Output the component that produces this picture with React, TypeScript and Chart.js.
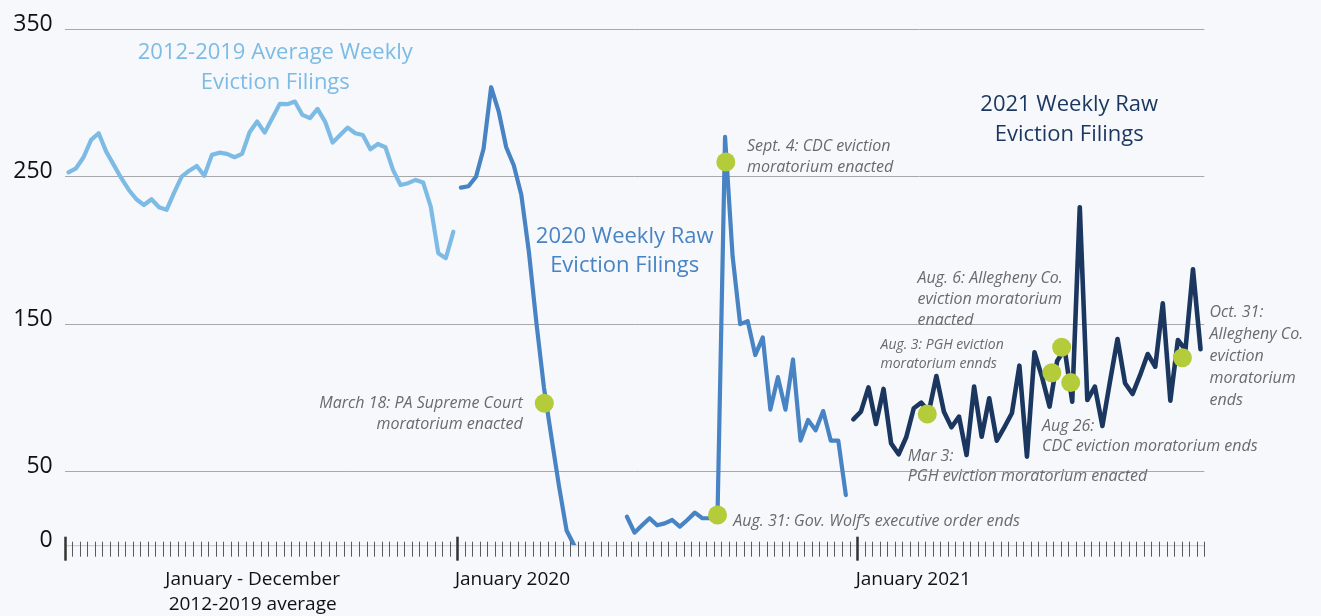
import React, { useEffect, useRef } from "react";
import { Chart, registerables } from "chart.js";

Chart.register(...registerables);

// ---------- data ----------
// x axis = weeks: 0..52 average year, 52..105 year 2020, 105..151 year 2021
const weekMax = 151;
const majorWeeks = [0, 52, 105];
const yTickLabels = [0, 50, 150, 250, 350];
const yGridValues = [50, 150, 250, 350];

const avgStartWeek = 0.5;
const avgWeekly = [
  253, 255.7, 263.2, 275, 279.5, 267, 258, 249, 241, 234.7,
  230.8, 234.7, 229.3, 227.5, 239.2, 250, 254.1, 257.3, 250.7, 264.8,
  266.3, 265.5, 263.2, 265.5, 280.2, 287.4, 279.9, 289.7, 299.4, 299.2,
  301, 291.9, 289.7, 296, 287.4, 273.1, 278.3, 283.3, 279.5, 278.3,
  268.6, 272.2, 270, 254.6, 244.4, 245.6, 247.8, 246, 229.7, 198.1,
  194.7, 212.7,
];

const raw2020StartWeek = 52.5;
const raw2020: (number | null)[] = [
  242.6, 243.5, 250, 269, 310.7, 294.4, 270, 257.8, 237.8, 199.2,
  151, 107, 73, 40, 10, 0, null, null, null, null,
  null, null, 19.3, 8.5, 13.5, 18.3, 13.5, 14.8, 17.1, 12.6,
  17.1, 22.1, 18.3, 18.3, 20.5, 277, 196, 150, 152, 129,
  141, 92, 114, 92, 126, 71, 85, 78, 91, 71,
  71, 34,
];

const raw2021StartWeek = 104.5;
const raw2021 = [
  85.4, 90.6, 107.1, 82.2, 106, 69.1, 61.7, 73.2, 92.9, 96.7,
  90.6, 114.8, 90.6, 80, 87.2, 61.2, 107.6, 73.6, 99.7, 70.9,
  80, 89.5, 121.8, 60.1, 130.9, 114, 94, 125, 133, 97.4,
  229.3, 98.5, 107.6, 80.9, 110.9, 139.9, 109.9, 102.6, 115.5, 129.7,
  121.1, 164.1, 98.1, 139.2, 132.5, 187.2, 132.9,
];

// policy events (green dots)
const eventWeeks = [63.55, 86.5, 87.6, 114.3, 130.8, 132.1, 133.3, 148.1];
const eventValues = [96.3, 20.5, 260, 89, 117, 134.3, 110.3, 127.2];

const xAxisLabels = [
  { lines: ["January - December", "2012-2019 average"], week: 24.9, align: "center" },
  { lines: ["January 2020"], week: 51.7, align: "left" },
  { lines: ["January 2021"], week: 104.8, align: "left" },
];

const seriesTitles = [
  { lines: ["2012-2019 Average Weekly", "Eviction Filings"], week: 27.9, value: 333.9, series: 0 },
  { lines: ["2020 Weekly Raw", "Eviction Filings"], week: 74.2, value: 209.3, series: 1 },
  { lines: ["2021 Weekly Raw", "Eviction Filings"], week: 133.1, value: 298.7, series: 2 },
];

const eventNotes = [
  { lines: ["March 18: PA Supreme Court", "moratorium enacted"], week: 60.7, value: 96.2, align: "right", size: 16, gap: 21.5 },
  { lines: ["Sept. 4: CDC eviction", "moratorium enacted"], week: 90.4, value: 270.2, align: "left", size: 16, gap: 21 },
  { lines: ["Aug. 31: Gov. Wolf\u2019s executive order ends"], week: 88.6, value: 16.4, align: "left", size: 16, gap: 21 },
  { lines: ["Aug. 6: Allegheny Co.", "eviction moratorium", "enacted"], week: 113.0, value: 181.1, align: "left", size: 16, gap: 21 },
  { lines: ["Aug. 3: PGH eviction", "moratorium ennds"], week: 108.1, value: 135.8, align: "left", size: 14, gap: 18.5 },
  { lines: ["Mar 3:", "PGH eviction moratorium enacted"], week: 111.7, value: 60.1, align: "left", size: 16, gap: 20 },
  { lines: ["Aug 26:", "CDC eviction moratorium ends"], week: 129.5, value: 80.4, align: "left", size: 16, gap: 20 },
  { lines: ["Oct. 31:", "Allegheny Co.", "eviction", "moratorium", "ends"], week: 151.7, value: 157.6, align: "left", size: 16, gap: 22 },
];

// ---------- styles ----------
const BG = "#f6f8fc";
const seriesColors = ["#7dbbe5", "#4883c3", "#1b365f"];
const dotColor = "#b4cb3a";
const noteColor = "#6a6a6a";
const FONT = '"Open Sans", "Noto Sans", sans-serif';

const toPoints = (start: number, vals: (number | null)[]) =>
  vals.map((v, i) => ({ x: start + i, y: v }));

const overlayPlugin = {
  id: "overlay",
  afterDraw(chart: any) {
    const { ctx } = chart;
    const xs = chart.scales.x;
    const ys = chart.scales.y;
    const y0 = ys.getPixelForValue(0);
    ctx.save();

    // axis line
    ctx.strokeStyle = "#c4c4c4";
    ctx.lineWidth = 1;
    ctx.beginPath();
    ctx.moveTo(xs.getPixelForValue(0), y0 + 0.5);
    ctx.lineTo(xs.getPixelForValue(weekMax), y0 + 0.5);
    ctx.stroke();

    // weekly ticks
    for (let w = 0; w <= weekMax; w++) {
      const px = Math.round(xs.getPixelForValue(w));
      const major = majorWeeks.includes(w);
      ctx.strokeStyle = major ? "#333" : "#5a5a5a";
      ctx.lineWidth = major ? 2.5 : 1;
      ctx.beginPath();
      ctx.moveTo(px + 0.5, y0 + (major ? -8.5 : -3.5));
      ctx.lineTo(px + 0.5, y0 + (major ? 15.5 : 11.5));
      ctx.stroke();
    }

    // x axis labels
    ctx.fillStyle = "#111";
    ctx.font = `19px ${FONT}`;
    ctx.textBaseline = "middle";
    xAxisLabels.forEach((l) => {
      ctx.textAlign = l.align as CanvasTextAlign;
      const px = xs.getPixelForValue(l.week);
      l.lines.forEach((t, i) => ctx.fillText(t, px, y0 + 34 + i * 25));
    });

    // series titles
    ctx.font = `22px ${FONT}`;
    ctx.textAlign = "center";
    seriesTitles.forEach((s) => {
      ctx.fillStyle = seriesColors[s.series];
      const px = xs.getPixelForValue(s.week);
      const py = ys.getPixelForValue(s.value);
      s.lines.forEach((t, i) => ctx.fillText(t, px, py + i * 29.5));
    });

    // event notes
    ctx.fillStyle = noteColor;
    eventNotes.forEach((n) => {
      ctx.font = `italic ${n.size}px ${FONT}`;
      ctx.textAlign = n.align as CanvasTextAlign;
      const px = xs.getPixelForValue(n.week);
      const py = ys.getPixelForValue(n.value);
      n.lines.forEach((t, i) => ctx.fillText(t, px, py + i * n.gap));
    });

    ctx.restore();
  },
};

export default function App() {
  const canvasRef = useRef<HTMLCanvasElement | null>(null);

  useEffect(() => {
    const canvas = canvasRef.current;
    if (!canvas) return;
    const lineBase = {
      type: "line" as const,
      pointRadius: 0,
      tension: 0,
      spanGaps: false,
      borderJoinStyle: "round" as const,
      borderCapStyle: "round" as const,
      fill: false,
      order: 2,
    };
    const chart = new Chart(canvas, {
      type: "line",
      data: {
        datasets: [
          {
            type: "scatter",
            label: "Policy events",
            data: eventWeeks.map((w, i) => ({ x: w, y: eventValues[i] })),
            pointRadius: 9.5,
            pointBackgroundColor: dotColor,
            pointBorderWidth: 0,
            borderColor: dotColor,
            order: 0,
          } as any,
          {
            ...lineBase,
            label: "2021 Weekly Raw Eviction Filings",
            data: toPoints(raw2021StartWeek, raw2021),
            borderColor: seriesColors[2],
            borderWidth: 4.6,
            order: 1,
          },
          {
            ...lineBase,
            label: "2020 Weekly Raw Eviction Filings",
            data: toPoints(raw2020StartWeek, raw2020),
            borderColor: seriesColors[1],
            borderWidth: 4.2,
          },
          {
            ...lineBase,
            label: "2012-2019 Average Weekly Eviction Filings",
            data: toPoints(avgStartWeek, avgWeekly),
            borderColor: seriesColors[0],
            borderWidth: 4.2,
            order: 3,
          },
        ],
      },
      options: {
        animation: false,
        responsive: false,
        maintainAspectRatio: false,
        events: [],
        layout: { padding: { left: 0, right: 116.7, top: 29.3, bottom: 70.8 } },
        plugins: { legend: { display: false }, tooltip: { enabled: false } },
        scales: {
          x: { type: "linear", min: 0, max: weekMax, display: false },
          y: {
            min: 0,
            max: 350,
            afterFit: (s: any) => {
              s.width = 64.7;
            },
            border: { display: false },
            grid: {
              drawTicks: false,
              lineWidth: 1,
              color: (c: any) =>
                c.tick && yGridValues.includes(c.tick.value) ? "#a8a8a8" : "rgba(0,0,0,0)",
            },
            ticks: {
              stepSize: 50,
              padding: 12,
              labelOffset: -5,
              color: "#111",
              font: { family: FONT, size: 23 },
              callback: (v: any) => (yTickLabels.includes(Number(v)) ? String(v) : ""),
            },
          },
        },
      } as any,
      plugins: [overlayPlugin],
    });
    return () => chart.destroy();
  }, []);

  return (
    <div
      style={{
        position: "fixed",
        left: 0,
        top: 0,
        width: 1321,
        height: 616,
        background: BG,
      }}
    >
      <canvas ref={canvasRef} width={1321} height={616} style={{ width: 1321, height: 616, display: "block" }} />
    </div>
  );
}
